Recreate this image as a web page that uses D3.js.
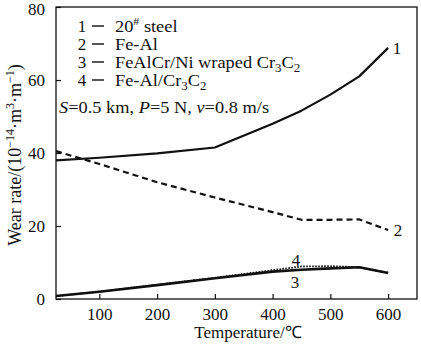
<!DOCTYPE html>
<html>
<head>
<meta charset="utf-8">
<script src="https://cdn.jsdelivr.net/npm/d3@7"></script>
<style>
  html, body { margin: 0; padding: 0; background: #fff; }
  svg { display: block; }
  text { font-family: "Liberation Serif", "Times New Roman", serif; fill: #111; }
</style>
</head>
<body>
<svg id="chart" width="421" height="348"></svg>
<script>
// Wear rate versus temperature for four coatings
const temps = [25, 100, 200, 300, 400, 450, 500, 550, 600];
const steel20   = [38.0, 38.7, 39.9, 41.5, 48.0, 51.6, 56.0, 61.0, 68.8];
const feAl      = [40.5, 37.0, 32.0, 27.8, 23.8, 21.7, 21.7, 21.8, 18.9];
const feAlCrNi  = [0.8, 2.0, 3.8, 5.7, 7.5, 8.0, 8.4, 8.7, 7.1];
const feAlCr3C2 = [0.8, 2.0, 3.9, 5.8, 7.9, 8.9, 9.0, 8.7, 7.2];

const xTicks = [100, 200, 300, 400, 500, 600];
const yTicks = [0, 20, 40, 60, 80];

const svg = d3.select("#chart");
const plotL = 56, plotR = 417, plotT = 7, plotB = 299;

const x = d3.scaleLinear().domain([25, 650]).range([plotL, plotR]);
const y = d3.scaleLinear().domain([0, 80]).range([plotB, plotT]);

// frame
svg.append("rect")
  .attr("x", plotL).attr("y", plotT)
  .attr("width", plotR - plotL).attr("height", plotB - plotT)
  .attr("fill", "none").attr("stroke", "#111").attr("stroke-width", 1.3);

// axes with inward ticks
const xAxis = d3.axisBottom(x).tickValues(xTicks).tickSizeInner(-5).tickSizeOuter(0).tickPadding(9);
const gx = svg.append("g").attr("transform", `translate(0,${plotB})`).call(xAxis);
gx.select(".domain").remove();
gx.selectAll("line").attr("stroke", "#111").attr("stroke-width", 1.2);
gx.selectAll("text").attr("font-size", 17).attr("font-family", "Liberation Serif");

const yAxis = d3.axisLeft(y).tickValues(yTicks).tickSizeInner(-5).tickSizeOuter(0).tickPadding(11);
const gy = svg.append("g").attr("transform", `translate(${plotL},0)`).call(yAxis);
gy.select(".domain").remove();
gy.selectAll("line").attr("stroke", "#111").attr("stroke-width", 1.2);
gy.selectAll("text").attr("font-size", 17).attr("font-family", "Liberation Serif")
  .attr("dy", d => d === 80 ? "0.45em" : "0.32em");

// series
const line = d3.line().x((d, i) => x(temps[i])).y(d => y(d));
const series = [
  { v: steel20,   width: 2.2, dash: null },
  { v: feAl,      width: 2.2, dash: "6,4" },
  { v: feAlCrNi,  width: 2.6, dash: null },
  { v: feAlCr3C2, width: 1.8, dash: "1.6,1.4" }
];
series.forEach(s => {
  svg.append("path")
    .attr("d", line(s.v))
    .attr("fill", "none")
    .attr("stroke", "#111")
    .attr("stroke-width", s.width)
    .attr("stroke-dasharray", s.dash)
    .attr("stroke-linejoin", "round");
});

// curve numbers
const numLabels = [
  { t: "1", px: 397, py: y(steel20[8]) + 6 },
  { t: "2", px: 398, py: y(feAl[8]) + 6 },
  { t: "4", px: 296, py: 266 },
  { t: "3", px: 295, py: 288 }
];
numLabels.forEach(d => {
  svg.append("text").attr("x", d.px).attr("y", d.py)
    .attr("text-anchor", "middle").attr("font-size", 17).text(d.t);
});

// legend
const legendRows = [
  { n: "1", parts: [["20", ""], ["#", "sup"], [" steel", ""]] },
  { n: "2", parts: [["Fe-Al", ""]] },
  { n: "3", parts: [["FeAlCr/Ni wraped Cr", ""], ["3", "sub"], ["C", ""], ["2", "sub"]] },
  { n: "4", parts: [["Fe-Al/Cr", ""], ["3", "sub"], ["C", ""], ["2", "sub"]] }
];
legendRows.forEach((r, i) => {
  const cy = 26 + i * 18;
  const g = svg.append("g").attr("transform", `translate(0,${cy})`);
  g.append("text").attr("x", 82).attr("y", 6).attr("text-anchor", "middle")
    .attr("font-size", 17).text(r.n);
  g.append("line").attr("x1", 92).attr("x2", 104).attr("y1", 0).attr("y2", 0)
    .attr("stroke", "#111").attr("stroke-width", 1.4);
  const t = g.append("text").attr("transform", "translate(115,6) scale(1.08,1)")
    .attr("font-size", 17);
  let shift = 0;
  r.parts.forEach(([s, kind]) => {
    const ts = t.append("tspan").text(s);
    if (kind === "sup") { ts.attr("font-size", 11).attr("dy", -7 - shift); shift = -7; }
    else if (kind === "sub") { ts.attr("font-size", 12).attr("dy", 4 - shift); shift = 4; }
    else { if (shift) ts.attr("dy", -shift); shift = 0; }
  });
});

// test conditions
const cond = svg.append("text").attr("transform", "translate(59,113) scale(1.08,1)").attr("font-size", 17);
[["S", "i"], ["=0.5 km, ", ""], ["P", "i"], ["=5 N, ", ""], ["v", "i"], ["=0.8 m/s", ""]]
  .forEach(([s, k]) => {
    const ts = cond.append("tspan").text(s);
    if (k === "i") ts.attr("font-style", "italic");
  });

// axis titles
svg.append("text").attr("x", 248).attr("y", 338).attr("text-anchor", "middle")
  .attr("font-size", 17).text("Temperature/\u2103");

const yl = svg.append("text")
  .attr("transform", "translate(21,155) rotate(-90)")
  .attr("text-anchor", "middle").attr("font-size", 18);
[["Wear rate/(10", 0], ["\u221214", -7], ["\u00b7m", 7], ["3", -7], ["\u00b7m", 7], ["\u22121", -7], [")", 7]]
  .forEach(([s, dy]) => {
    const ts = yl.append("tspan").text(s).attr("dy", dy);
    if (dy < 0) ts.attr("font-size", 12);
  });
</script>
</body>
</html>
